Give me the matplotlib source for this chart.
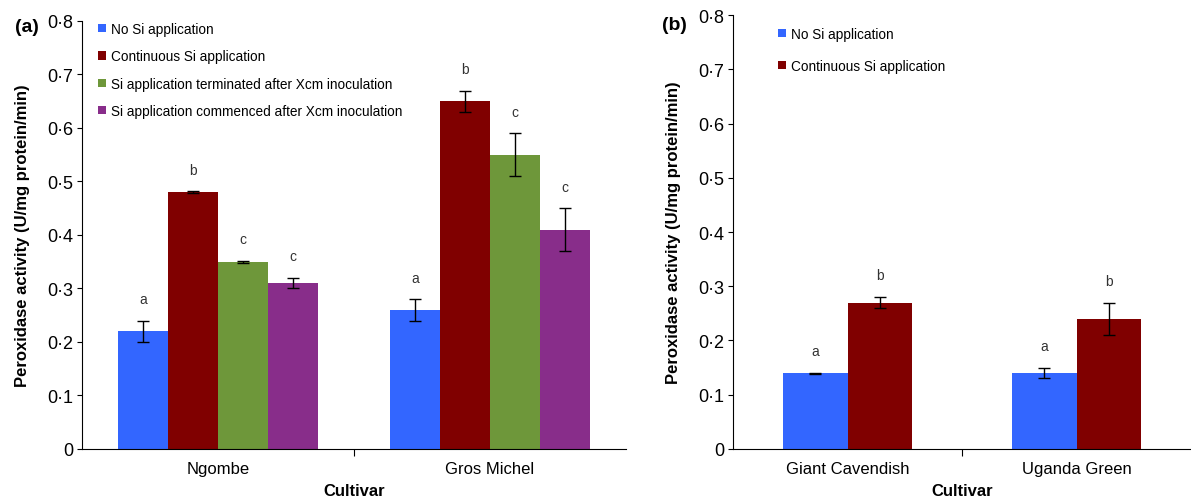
import matplotlib.pyplot as plt
import numpy as np

plt.rcParams['font.family'] = ['Liberation Sans', 'DejaVu Sans']

# panel (a)
cult_a = ["Ngombe", "Gros Michel"]
series_a = ["No Si application", "Continuous Si application",
            "Si application terminated after Xcm inoculation",
            "Si application commenced after Xcm inoculation"]
vals_a = [[0.22, 0.26], [0.48, 0.65], [0.35, 0.55], [0.31, 0.41]]
err_a = [[0.02, 0.02], [0.002, 0.02], [0.002, 0.04], [0.01, 0.04]]
let_a = [["a", "a"], ["b", "b"], ["c", "c"], ["c", "c"]]

# panel (b)
cult_b = ["Giant Cavendish", "Uganda Green"]
series_b = ["No Si application", "Continuous Si application"]
vals_b = [[0.14, 0.14], [0.27, 0.24]]
err_b = [[0.001, 0.01], [0.01, 0.03]]
let_b = [["a", "a"], ["b", "b"]]

colors = ['#3366FF', '#800000', '#6E973A', '#882D8A']
yticks = [0, 0.1, 0.2, 0.3, 0.4, 0.5, 0.6, 0.7, 0.8]
ylabels = ["0" if t == 0 else ("%.1f" % t).replace(".", "\u00b7") for t in yticks]

fig = plt.figure(figsize=(11.91, 5.02), dpi=100)
ax1 = fig.add_axes([0.0688, 0.1036, 0.4568, 0.8526])
ax2 = fig.add_axes([0.6155, 0.1036, 0.3845, 0.8645])


def draw(ax, cults, series, vals, errs, lets, width, leg_anchor, spacing):
    ind = np.arange(len(cults))
    n = len(series)
    for i in range(n):
        pos = ind + (i - (n - 1) / 2) * width
        ax.bar(pos, vals[i], width, color=colors[i], label=series[i],
               edgecolor='none')
        ax.errorbar(pos, vals[i], yerr=errs[i], fmt='none', ecolor='black',
                    elinewidth=1, capsize=4, capthick=1)
        for j in range(len(cults)):
            ax.text(pos[j], vals[i][j] + errs[i][j] + 0.027, lets[i][j],
                    ha='center', va='bottom', fontsize=10, color='#333333')
    ax.set_xlim(-0.5, len(cults) - 0.5)
    ax.set_ylim(0, 0.8)
    ax.set_yticks(yticks)
    ax.set_yticklabels(ylabels, fontsize=13)
    ax.set_xticks([0.5])
    ax.set_xticklabels([])
    ax.set_xticks(ind, minor=True)
    ax.set_xticklabels(cults, minor=True, fontsize=12)
    ax.tick_params(axis='x', which='major', length=5, direction='out')
    ax.tick_params(axis='x', which='minor', length=0, pad=9)
    ax.tick_params(axis='y', length=3.5, direction='out', pad=3)
    ax.spines['top'].set_visible(False)
    ax.spines['right'].set_visible(False)
    ax.set_xlabel('Cultivar', fontsize=12, fontweight='bold', labelpad=5)
    ax.set_ylabel('Peroxidase activity (U/mg protein/min)', fontsize=12,
                  fontweight='bold', labelpad=12)
    ax.legend(loc='upper left', bbox_to_anchor=leg_anchor, frameon=False,
              fontsize=9.8, handlelength=0.55, handleheight=0.55,
              handletextpad=0.4, labelspacing=spacing, borderaxespad=0)


draw(ax1, cult_a, series_a, vals_a, err_a, let_a, 0.1835, (0.02, 1.01), 0.97)
draw(ax2, cult_b, series_b, vals_b, err_b, let_b, 0.283, (0.087, 0.985), 1.3)

fig.text(0.0126, 0.946, '(a)', fontsize=14, fontweight='bold', va='center')
fig.text(0.556, 0.95, '(b)', fontsize=14, fontweight='bold', va='center')

fig.savefig('out.png', dpi=100)
